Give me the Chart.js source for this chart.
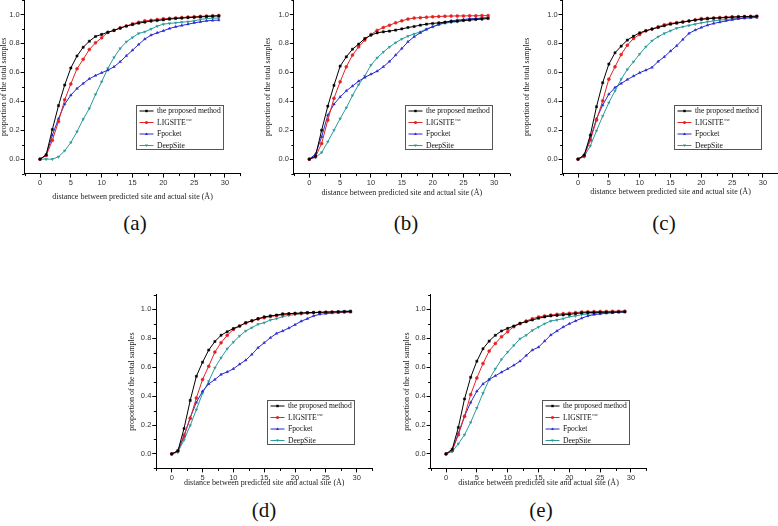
<!DOCTYPE html>
<html>
<head>
<meta charset="utf-8">
<title>Proportion of samples vs distance</title>
<script src="https://cdn.jsdelivr.net/npm/chart.js@4.4.1/dist/chart.umd.min.js"></script>
<style>
  html, body { margin: 0; padding: 0; background: #fff; }
  #page { position: relative; width: 778px; height: 526px; overflow: hidden; }
  #page canvas { position: absolute; }
  .cap { position: absolute; font-family: 'Liberation Serif', serif; font-size: 21px; color: #111; transform: translate(-50%, -50%); white-space: nowrap; }
</style>
</head>
<body>
<div id="page"></div>
<script>
// distance thresholds (Angstrom)
const distance = [0,1,2,3,4,5,6,7,8,9,10,11,12,13,14,15,16,17,18,19,20,21,22,23,24,25,26,27,28,29];
const xTicks = [0,5,10,15,20,25,30];
const yTicks = [0,0.2,0.4,0.6,0.8,1.0];
const seriesNames = ['the proposed method', 'LIGSITE', 'Fpocket', 'DeepSite'];
const seriesSup = ['', 'csc', '', ''];
const panelLetters = ['(a)', '(b)', '(c)', '(d)', '(e)'];
const xTitle = 'distance between predicted site and actual site (Å)';
const yTitle = 'proportion of the total samples';

// (a)
const propA = [0,0.03,0.205,0.37,0.512,0.63,0.713,0.773,0.815,0.848,0.862,0.877,0.89,0.905,0.92,0.93,0.94,0.947,0.954,0.958,0.963,0.968,0.972,0.975,0.978,0.98,0.983,0.986,0.988,0.99];
const ligA = [0,0.025,0.13,0.26,0.41,0.52,0.625,0.69,0.758,0.804,0.839,0.876,0.89,0.908,0.92,0.935,0.947,0.956,0.96,0.965,0.97,0.973,0.976,0.979,0.982,0.985,0.987,0.989,0.991,0.993];
const fpoA = [0,0.028,0.165,0.28,0.38,0.442,0.488,0.523,0.555,0.578,0.597,0.615,0.638,0.673,0.714,0.753,0.793,0.83,0.857,0.873,0.887,0.903,0.915,0.924,0.933,0.942,0.949,0.956,0.959,0.961];
const deepA = [0,0,0,0.016,0.058,0.115,0.19,0.276,0.35,0.447,0.535,0.627,0.703,0.765,0.811,0.841,0.869,0.88,0.899,0.919,0.933,0.938,0.942,0.947,0.95,0.956,0.965,0.972,0.974,0.975];
// (b)
const propB = [0,0.02,0.2,0.366,0.51,0.643,0.707,0.76,0.795,0.834,0.857,0.873,0.88,0.885,0.892,0.9,0.91,0.917,0.926,0.933,0.938,0.942,0.947,0.951,0.954,0.958,0.961,0.965,0.968,0.972];
const ligB = [0,0.016,0.108,0.27,0.42,0.535,0.638,0.719,0.776,0.823,0.862,0.89,0.91,0.926,0.942,0.956,0.968,0.975,0.978,0.981,0.984,0.986,0.988,0.989,0.99,0.99,0.991,0.991,0.992,0.992];
const fpoB = [0,0.035,0.154,0.304,0.38,0.43,0.472,0.505,0.539,0.565,0.587,0.608,0.638,0.675,0.719,0.765,0.811,0.846,0.873,0.896,0.915,0.931,0.945,0.956,0.961,0.965,0.97,0.972,0.975,0.977];
const deepB = [0,0.012,0.046,0.12,0.2,0.28,0.355,0.44,0.515,0.575,0.65,0.7,0.74,0.775,0.805,0.83,0.85,0.865,0.88,0.9,0.915,0.93,0.94,0.945,0.95,0.958,0.965,0.97,0.975,0.978];
// (c)
const propC = [0,0.028,0.166,0.362,0.528,0.657,0.735,0.781,0.823,0.85,0.873,0.887,0.899,0.91,0.922,0.933,0.94,0.947,0.954,0.961,0.966,0.97,0.974,0.976,0.979,0.981,0.983,0.985,0.986,0.988];
const ligC = [0,0.02,0.13,0.27,0.403,0.553,0.638,0.723,0.788,0.834,0.862,0.887,0.9,0.915,0.929,0.938,0.944,0.95,0.956,0.963,0.972,0.974,0.976,0.979,0.981,0.984,0.985,0.986,0.987,0.988];
const fpoC = [0,0.028,0.143,0.28,0.373,0.449,0.495,0.523,0.55,0.574,0.597,0.615,0.634,0.675,0.707,0.747,0.783,0.827,0.869,0.892,0.91,0.926,0.938,0.947,0.956,0.963,0.97,0.974,0.977,0.979];
const deepC = [0,0.016,0.092,0.196,0.297,0.39,0.472,0.553,0.62,0.673,0.726,0.776,0.818,0.846,0.869,0.887,0.905,0.915,0.924,0.933,0.942,0.949,0.956,0.961,0.965,0.97,0.972,0.976,0.979,0.982];
// (d)
const propD = [0,0.02,0.176,0.37,0.537,0.634,0.718,0.777,0.82,0.845,0.867,0.884,0.907,0.92,0.935,0.947,0.954,0.96,0.968,0.97,0.972,0.974,0.977,0.978,0.979,0.98,0.981,0.982,0.983,0.985];
const ligD = [0,0.023,0.13,0.245,0.387,0.514,0.606,0.704,0.769,0.82,0.861,0.884,0.905,0.92,0.933,0.942,0.95,0.956,0.962,0.966,0.97,0.972,0.975,0.977,0.978,0.979,0.98,0.981,0.982,0.983];
const fpoD = [0,0.02,0.12,0.252,0.356,0.433,0.484,0.514,0.549,0.567,0.588,0.62,0.648,0.688,0.734,0.768,0.803,0.833,0.85,0.87,0.893,0.917,0.935,0.954,0.965,0.97,0.974,0.977,0.979,0.981];
const deepD = [0,0.012,0.097,0.197,0.306,0.42,0.502,0.595,0.664,0.727,0.773,0.815,0.85,0.873,0.896,0.907,0.926,0.935,0.949,0.958,0.963,0.968,0.972,0.975,0.978,0.981,0.983,0.985,0.988,0.99];
// (e)
const propE = [0,0.032,0.183,0.38,0.53,0.641,0.727,0.78,0.82,0.85,0.868,0.884,0.903,0.914,0.926,0.938,0.947,0.954,0.958,0.961,0.965,0.97,0.975,0.977,0.978,0.979,0.98,0.98,0.981,0.982];
const ligE = [0,0.023,0.132,0.26,0.41,0.525,0.625,0.711,0.764,0.81,0.845,0.88,0.9,0.919,0.935,0.947,0.954,0.96,0.965,0.97,0.973,0.977,0.981,0.983,0.984,0.985,0.985,0.986,0.986,0.987];
const fpoE = [0,0.023,0.143,0.26,0.356,0.433,0.484,0.514,0.54,0.565,0.588,0.613,0.641,0.68,0.718,0.738,0.78,0.822,0.85,0.877,0.9,0.919,0.938,0.954,0.963,0.968,0.972,0.976,0.979,0.981];
const deepE = [0,0.016,0.07,0.132,0.218,0.317,0.42,0.514,0.588,0.653,0.704,0.75,0.796,0.82,0.854,0.877,0.9,0.919,0.926,0.935,0.949,0.954,0.963,0.967,0.97,0.977,0.979,0.981,0.985,0.988];

const lineColors = ['#000000', '#e52222', '#2a2ad0', '#2b9a9a'];
const markerStyles = ['rect', 'circle', 'triangle', 'triangle'];
const markerRotation = [0, 0, 0, 180];

const X_MIN = -2.5, X_MAX = 32.5, Y_MIN = -0.1, Y_MAX = 1.1;
const PLOT_W = 215.8, PLOT_H = 173.6;
const TITLE_SIZE = 8;

// where each panel's axes sit on the page
const panels = [
    { series: [propA, ligA, fpoA, deepA], L: 24.6,  T: 0,     yGap: 20.6, xGap: 23,   cap: [135, 223] },
    { series: [propB, ligB, fpoB, deepB], L: 293.9, T: 0,     yGap: 26,   xGap: 19.7, cap: [406, 223] },
    { series: [propC, ligC, fpoC, deepC], L: 562.6, T: 0,     yGap: 36,   xGap: 18.5, cap: [664, 223] },
    { series: [propD, ligD, fpoD, deepD], L: 156.3, T: 294.8, yGap: 24.6, xGap: 15,   cap: [264, 510] },
    { series: [propE, ligE, fpoE, deepE], L: 430.6, T: 294.8, yGap: 24,   xGap: 14.5, cap: [541, 510] }
];

Chart.defaults.font.family = "'Liberation Sans', Arial, sans-serif";

const xMinor = [...xTicks.map(v => v - 2.5), xTicks[xTicks.length - 1] + 2.5];
const yMinor = [...yTicks.map(v => v - 0.1), yTicks[yTicks.length - 1] + 0.1];

const minorTicks = {
    id: 'minorTicks',
    afterDraw(chart) {
        const { ctx, chartArea: ca, scales: { x, y } } = chart;
        ctx.save();
        ctx.strokeStyle = '#000';
        ctx.lineWidth = 1;
        ctx.beginPath();
        xMinor.forEach(v => {
            const px = Math.round(x.getPixelForValue(v)) + 0.5;
            ctx.moveTo(px, ca.bottom);
            ctx.lineTo(px, ca.bottom + 2.5);
        });
        yMinor.forEach(v => {
            const py = Math.round(y.getPixelForValue(v)) + 0.5;
            ctx.moveTo(ca.left, py);
            ctx.lineTo(ca.left - 2.5, py);
        });
        ctx.stroke();
        ctx.restore();
    }
};

function drawMarker(ctx, style, rot, x, y, r) {
    ctx.beginPath();
    if (style === 'rect') {
        ctx.rect(x - r * 0.75, y - r * 0.75, r * 1.5, r * 1.5);
    } else if (style === 'circle') {
        ctx.arc(x, y, r, 0, Math.PI * 2);
    } else {
        const s = rot === 180 ? -1 : 1;
        ctx.moveTo(x, y - s * r);
        ctx.lineTo(x - r, y + s * r * 0.7);
        ctx.lineTo(x + r, y + s * r * 0.7);
        ctx.closePath();
    }
    ctx.fill();
}

// legend box inside the plot, like the original figure
const boxLegend = {
    id: 'boxLegend',
    afterDraw(chart) {
        const { ctx, chartArea: ca } = chart;
        const bx = Math.round(ca.left + 111) + 0.5, by = Math.round(ca.top + 105) + 0.5;
        const bw = 87, bh = 44;
        ctx.save();
        ctx.fillStyle = '#fff';
        ctx.fillRect(bx, by, bw, bh);
        ctx.strokeStyle = '#555';
        ctx.lineWidth = 1;
        ctx.strokeRect(bx, by, bw, bh);
        chart.data.datasets.forEach((ds, i) => {
            const yy = by + 5.5 + i * 11.5;
            ctx.strokeStyle = ds.borderColor;
            ctx.fillStyle = ds.borderColor;
            ctx.beginPath();
            ctx.moveTo(bx + 3, yy);
            ctx.lineTo(bx + 17, yy);
            ctx.stroke();
            drawMarker(ctx, markerStyles[i], markerRotation[i], bx + 10, yy, 1.6);
            ctx.fillStyle = '#111';
            ctx.font = "7.6px 'Liberation Serif', serif";
            ctx.textBaseline = 'middle';
            ctx.fillText(ds.label, bx + 20.5, yy);
            if (seriesSup[i]) {
                const w = ctx.measureText(ds.label).width;
                ctx.font = "4.5px 'Liberation Serif', serif";
                ctx.fillText(seriesSup[i], bx + 21 + w, yy - 3);
            }
        });
        ctx.restore();
    }
};

const page = document.getElementById('page');

panels.forEach((p, idx) => {
    const lh = TITLE_SIZE * 1.2;
    const left = Math.floor(p.L - p.yGap - lh / 2 - 1);
    const W = p.L - left;
    const top = Math.floor(p.T - 8);
    const padTop = p.T - top;
    const H = p.xGap + lh / 2;
    const width = Math.ceil(p.L + PLOT_W + 6) - left;
    const height = Math.ceil(p.T + PLOT_H + H + 1) - top;
    const padRight = width - W - PLOT_W;
    const padBottom = height - padTop - PLOT_H - H;

    const canvas = document.createElement('canvas');
    canvas.width = width;
    canvas.height = height;
    canvas.style.left = left + 'px';
    canvas.style.top = top + 'px';
    canvas.style.width = width + 'px';
    canvas.style.height = height + 'px';
    page.appendChild(canvas);

    new Chart(canvas, {
        type: 'line',
        data: {
            datasets: p.series.map((vals, i) => ({
                label: seriesNames[i],
                data: distance.map((d, k) => ({ x: d, y: vals[k] })),
                borderColor: lineColors[i],
                backgroundColor: lineColors[i],
                borderWidth: 1,
                pointStyle: markerStyles[i],
                pointRotation: markerRotation[i],
                pointRadius: 1.5,
                pointBorderWidth: 0.5,
                tension: 0
            }))
        },
        options: {
            responsive: false,
            animation: false,
            devicePixelRatio: 1,
            layout: { padding: { left: 0, top: padTop, right: padRight, bottom: padBottom } },
            plugins: { legend: { display: false }, tooltip: { enabled: false } },
            scales: {
                x: {
                    type: 'linear',
                    min: X_MIN,
                    max: X_MAX,
                    afterBuildTicks: s => { s.ticks = xTicks.map(v => ({ value: v })); },
                    afterFit: s => { s.height = H; },
                    border: { display: true, color: '#000', width: 1 },
                    grid: { display: true, drawOnChartArea: false, drawTicks: true, tickLength: 4, color: '#000', tickColor: '#000' },
                    ticks: { padding: 1, color: '#333', font: { size: 7.5 }, maxRotation: 0, callback: v => String(v) },
                    title: { display: true, text: xTitle, color: '#222', padding: 0, font: { family: "'Liberation Serif', serif", size: TITLE_SIZE } }
                },
                y: {
                    type: 'linear',
                    min: Y_MIN,
                    max: Y_MAX,
                    afterBuildTicks: s => { s.ticks = yTicks.map(v => ({ value: v })); },
                    afterFit: s => { s.width = W; },
                    border: { display: true, color: '#000', width: 1 },
                    grid: { display: true, drawOnChartArea: false, drawTicks: true, tickLength: 4, color: '#000', tickColor: '#000' },
                    ticks: { padding: 1, color: '#333', font: { size: 7.5 }, callback: v => Number(v).toFixed(1) },
                    title: { display: true, text: yTitle, color: '#222', padding: { top: W - p.yGap - lh / 2, bottom: 0 }, font: { family: "'Liberation Serif', serif", size: TITLE_SIZE } }
                }
            }
        },
        plugins: [minorTicks, boxLegend]
    });

    const cap = document.createElement('div');
    cap.className = 'cap';
    cap.textContent = panelLetters[idx];
    cap.style.left = p.cap[0] + 'px';
    cap.style.top = p.cap[1] + 'px';
    page.appendChild(cap);
});
</script>
</body>
</html>
